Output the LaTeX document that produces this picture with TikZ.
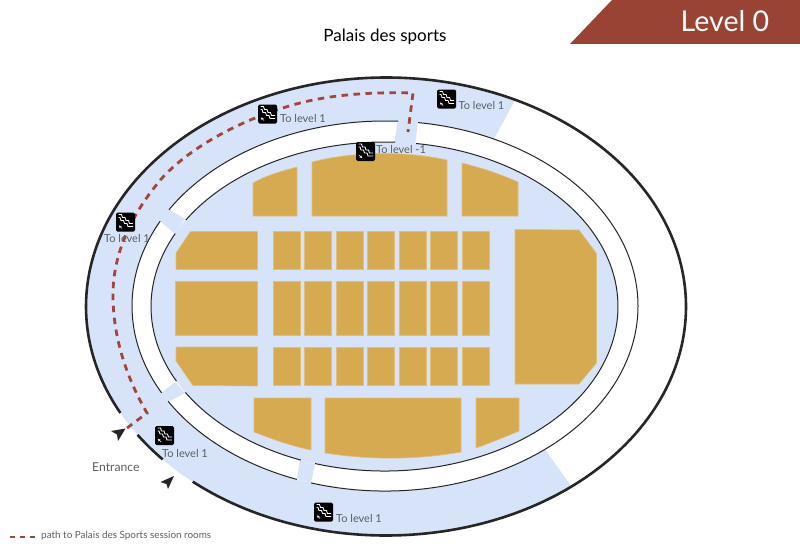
\documentclass[tikz,border=0pt]{standalone}
\usepackage{fontspec}
\setmainfont{Lato}
\usetikzlibrary{arrows.meta,calc}
\definecolor{hallblue}{HTML}{D6E3F8}
\definecolor{seatgold}{HTML}{D6AA50}
\definecolor{bannerred}{HTML}{984334}
\definecolor{pathred}{HTML}{A5443A}
\definecolor{labelgrey}{HTML}{5A5F66}
\tikzset{
  block/.style={fill=seatgold,draw=seatgold!75!white,line width=.6},
  wall/.style={draw=black!85,line width=1},
  shell/.style={draw=black!85,line width=2.6},
  route/.style={draw=pathred,line width=2.8,dash pattern=on 6.5 off 5.5},
  signtext/.style={text=labelgrey,font=\fontsize{11}{13}\selectfont,inner sep=0,anchor=west},
  pointer/.style={fill=black!85,draw=none},
  stairup/.pic={
    \fill[black,rounded corners=1.5] (-9.5,-9.5) rectangle (9.5,9.5);
    \draw[white,line width=.8] (-7,-7.5) -- (-4,-7.5) -- (-3,-4.5) -- (-.5,-4.5) -- (.5,-1.5) -- (3,-1.5) -- (4,1.5) -- (7.5,1.5);
    \draw[white,line width=.8] (-7,-4.5) -- (-5.5,-4.5) -- (-4.5,-1.5) -- (-2,-1.5) -- (-1,1.5) -- (1.5,1.5) -- (2.5,4.5) -- (7.5,4.5);
    \draw[white,line width=.7,-{Stealth[length=2.6,width=2.6]}] (-3.5,6.5) -- (-6.5,3.5);
  },
  stairdown/.pic={
    \fill[black,rounded corners=1.5] (-9.5,-9.5) rectangle (9.5,9.5);
    \draw[white,line width=.8] (-7,-7.5) -- (-4,-7.5) -- (-3,-4.5) -- (-.5,-4.5) -- (.5,-1.5) -- (3,-1.5) -- (4,1.5) -- (7.5,1.5);
    \draw[white,line width=.8] (-7,-4.5) -- (-5.5,-4.5) -- (-4.5,-1.5) -- (-2,-1.5) -- (-1,1.5) -- (1.5,1.5) -- (2.5,4.5) -- (7.5,4.5);
    \draw[white,line width=.7,-{Stealth[length=2.6,width=2.6]}] (-6.5,3.5) -- (-3.5,6.5);
  }
}
\begin{document}
\begin{tikzpicture}[x=1pt,y=-1pt]
  \useasboundingbox (0,0) rectangle (800,551);
  \fill[white] (0,0) rectangle (800,551);

  \fill[hallblue] (386,306.5) ++(-64.5:300 and 229) arc[start angle=-64.5,end angle=-308.2,x radius=300,y radius=229]
    -- ($(385,306)+(-309.2:253 and 185)$) arc[start angle=-309.2,end angle=-64.5,x radius=253,y radius=185] -- cycle;
  \fill[hallblue] (384.5,306.5) ellipse[x radius=233.5,y radius=164.5];

  \fill[hallblue] (398,120) -- (418,121) -- (415,145) -- (394,144) -- cycle;
  \fill[hallblue] (168,209) -- (185,219) -- (175,234) -- (160,221) -- cycle;
  \fill[hallblue] (161,393) -- (175,382) -- (185,393) -- (168,402) -- cycle;
  \fill[hallblue] (297,479) -- (300,460) -- (315,464) -- (311,483) -- cycle;

  \draw[wall] (385,306) ++(-87:253 and 185) arc[start angle=-87,end angle=-148.6,x radius=253,y radius=185];
  \draw[wall] (385,306) ++(-152.7:253 and 185) arc[start angle=-152.7,end angle=-208,x radius=253,y radius=185];
  \draw[wall] (385,306) ++(-211:253 and 185) arc[start angle=-211,end angle=-249.6,x radius=253,y radius=185];
  \draw[wall] (385,306) ++(-253:253 and 185) arc[start angle=-253,end angle=-442.5,x radius=253,y radius=185];
  \draw[wall] (384.5,306.5) ++(-87.4:233.5 and 164.5) arc[start angle=-87.4,end angle=-148.3,x radius=233.5,y radius=164.5];
  \draw[wall] (384.5,306.5) ++(-153.7:233.5 and 164.5) arc[start angle=-153.7,end angle=-207,x radius=233.5,y radius=164.5];
  \draw[wall] (384.5,306.5) ++(-211.5:233.5 and 164.5) arc[start angle=-211.5,end angle=-249,x radius=233.5,y radius=164.5];
  \draw[wall] (384.5,306.5) ++(-252.7:233.5 and 164.5) arc[start angle=-252.7,end angle=-442.2,x radius=233.5,y radius=164.5];

  \draw[shell] (386,306.5) ++(-214.1:300 and 229) arc[start angle=-214.1,end angle=-221.9,x radius=300,y radius=229];
  \draw[shell] (386,306.5) ++(-229.9:300 and 229) arc[start angle=-229.9,end angle=-567.7,x radius=300,y radius=229];

  \draw[block] (253,183) .. controls (267,175) and (282,171) .. (297,167) -- (297,216) -- (253,216) -- cycle;
  \draw[block] (312,162) .. controls (355,151) and (405,151) .. (447,160) -- (447,216) -- (312,216) -- cycle;
  \draw[block] (462,163) .. controls (482,168) and (500,174) .. (518,182) -- (518,216) -- (462,216) -- cycle;
  \draw[block] (190.5,231.5) -- (257.5,231.5) -- (257.5,269.5) -- (176,269.5) -- (176,253) -- cycle;
  \draw[block] (175,281) rectangle (257.5,335.5);
  \draw[block] (176,347) -- (257.5,347) -- (257.5,386) -- (193,385.5) -- (176,361) -- cycle;
  \draw[block] (515,229.5) -- (579,230) -- (596.5,253.5) -- (596.5,363) -- (579,384) -- (515,384) -- cycle;
  \draw[block] (254,398) -- (311,398) -- (311,450) .. controls (291,446) and (272,439) .. (254,432) -- cycle;
  \draw[block] (325,398) -- (461,398) -- (461,452) .. controls (416,460) and (370,460) .. (325,453) -- cycle;
  \draw[block] (476,398) -- (519,398) -- (519,431) .. controls (505,437) and (490,443) .. (476,448) -- cycle;

  \draw[block] (273,231) rectangle (300,269.5);
  \draw[block] (304.5,231) rectangle (331.5,269.5);
  \draw[block] (336,231) rectangle (363,269.5);
  \draw[block] (367.5,231) rectangle (394.5,269.5);
  \draw[block] (399,231) rectangle (426,269.5);
  \draw[block] (430.5,231) rectangle (457.5,269.5);
  \draw[block] (462,231) rectangle (489,269.5);
  \draw[block] (273,281.5) rectangle (300,335);
  \draw[block] (304.5,281.5) rectangle (331.5,335);
  \draw[block] (336,281.5) rectangle (363,335);
  \draw[block] (367.5,281.5) rectangle (394.5,335);
  \draw[block] (399,281.5) rectangle (426,335);
  \draw[block] (430.5,281.5) rectangle (457.5,335);
  \draw[block] (462,281.5) rectangle (489,335);
  \draw[block] (273,347) rectangle (300,385);
  \draw[block] (304.5,347) rectangle (331.5,385);
  \draw[block] (336,347) rectangle (363,385);
  \draw[block] (367.5,347) rectangle (394.5,385);
  \draw[block] (399,347) rectangle (426,385);
  \draw[block] (430.5,347) rectangle (457.5,385);
  \draw[block] (462,347) rectangle (489,385);

  \coordinate (door) at (127,428);
  \coordinate (bend) at (147,413);
  \coordinate (stop) at (408,132);
  \coordinate (corner) at (413,93);
  \draw[route] (door) -- (bend) .. controls (125,375) and (113,335) .. (113,295)
    .. controls (113,255) and (130,215) .. (163,177)
    .. controls (195,143) and (250,116) .. (300,103)
    .. controls (335,94) and (375,92) .. (corner) -- (stop);

  \fill[pointer] (125.5,428.5) -- (111,431) -- (117,434.5) -- (118,441) -- cycle;
  \fill[pointer] (174,476) -- (160.5,482) -- (166.5,484) -- (168,489) -- cycle;

  \fill[bannerred] (570,44) -- (612,0) -- (800,0) -- (800,44) -- cycle;
  \node[text=white,font=\fontsize{28.6}{31}\selectfont,inner sep=0] (levelname) at (725,21) {Level 0};
  \node[text=black,font=\fontsize{17}{20}\selectfont,inner sep=0] (hallname) at (385,37) {Palais des sports};

  \pic at (267.5,114) {stairup};
  \pic at (446.5,99) {stairup};
  \pic at (125.5,222) {stairup};
  \pic at (164.5,435.5) {stairup};
  \pic at (323.5,512) {stairup};
  \pic at (365.5,151.5) {stairdown};

  \node[signtext] (up1) at (280,118.5) {To level 1};
  \node[signtext] (up2) at (458.5,105) {To level 1};
  \node[signtext] (up3) at (104,238.5) {To level 1};
  \node[signtext] (up4) at (162,453) {To level 1};
  \node[signtext] (up5) at (336,518) {To level 1};
  \node[signtext] (down1) at (376,149) {To level -1};
  \node[signtext,font=\fontsize{12.2}{14}\selectfont] (entrance) at (92,467.5) {Entrance};

  \coordinate (keya) at (10,537);
  \coordinate (keyb) at (36,537);
  \draw[pathred,line width=1.2,dash pattern=on 5 off 5] (keya) -- (keyb);
  \node[signtext,font=\fontsize{9.9}{11}\selectfont] (key) at (41,536) {path to Palais des Sports session rooms};
\end{tikzpicture}
\end{document}
